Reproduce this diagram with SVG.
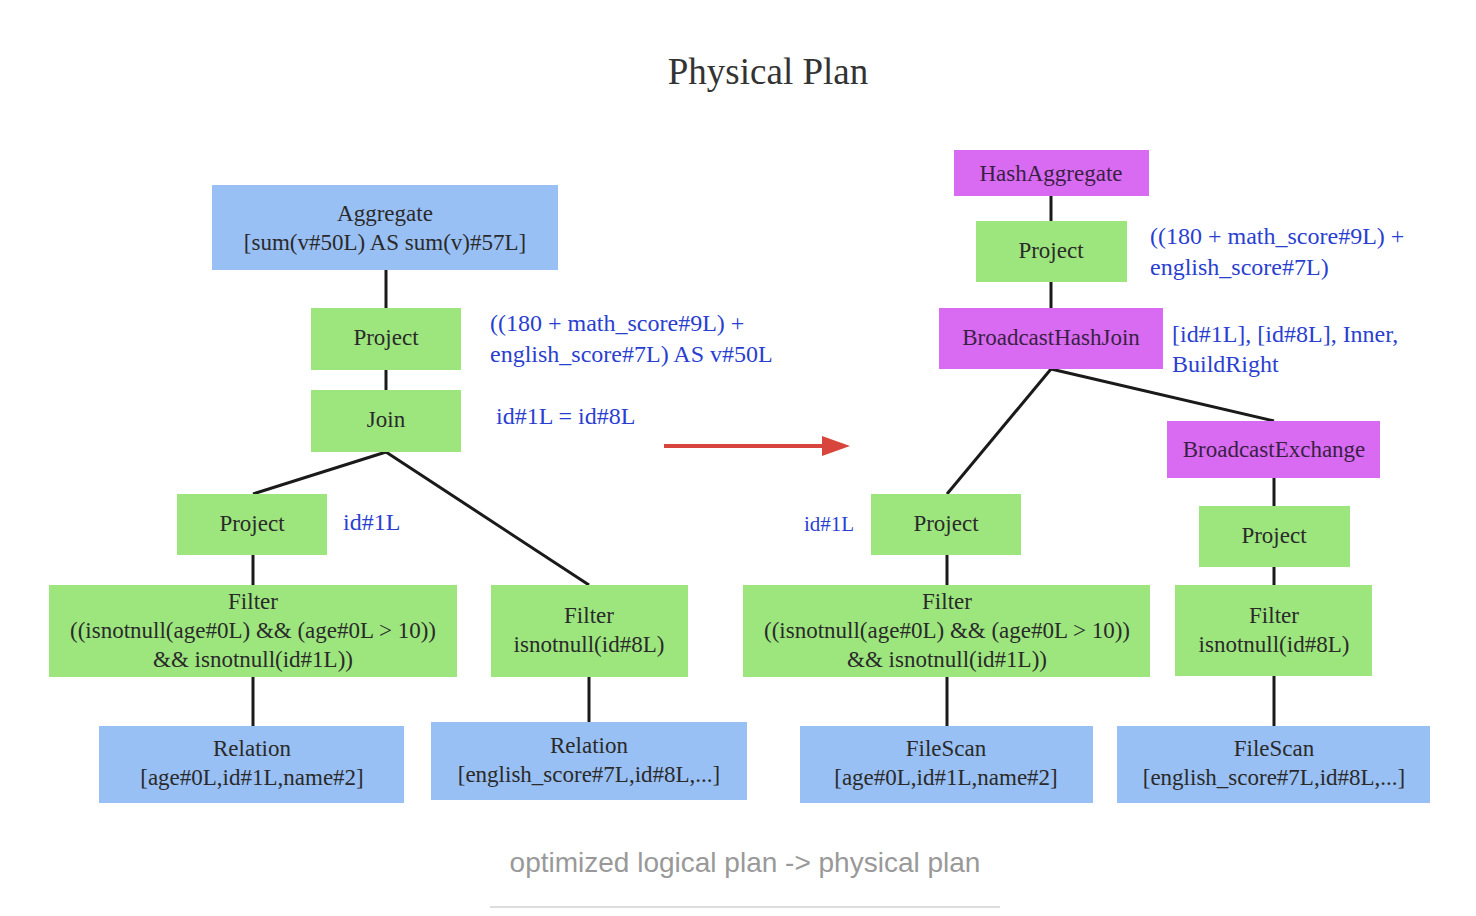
<svg xmlns="http://www.w3.org/2000/svg" width="1476" height="916" viewBox="0 0 1476 916">
<style>
.g{fill:#9de67e}
.b{fill:#99c0f4}
.p{fill:#d96bf2}
text{font-family:"Liberation Serif","Times New Roman",serif;font-size:23px;fill:#2a2a2a;text-anchor:middle}
.pt{fill:#3a1f45}
.a{fill:#2a3fd0;text-anchor:start;font-size:24px}
.c line{stroke:#1a1a1a;stroke-width:3}
</style>
<defs>
<marker id="ah" viewBox="0 0 14 10" refX="0" refY="5" markerWidth="7" markerHeight="5" markerUnits="strokeWidth" orient="auto">
<path d="M0,0L14,5L0,10z" fill="#d8453d"/>
</marker>
</defs>
<rect width="1476" height="916" fill="#fff"/>
<text x="768" y="84" style="font-size:37px;fill:#333">Physical Plan</text>

<g class="c" id="connectors">
<line x1="386" y1="270" x2="386" y2="308"/>
<line x1="386" y1="370" x2="386" y2="390"/>
<line x1="386" y1="452" x2="253" y2="494"/>
<line x1="386" y1="452" x2="589" y2="585"/>
<line x1="253" y1="555" x2="253" y2="585"/>
<line x1="253" y1="677" x2="253" y2="726"/>
<line x1="589" y1="677" x2="589" y2="722"/>
<line x1="1051" y1="196" x2="1051" y2="221"/>
<line x1="1051" y1="282" x2="1051" y2="308"/>
<line x1="1051" y1="369" x2="947" y2="494"/>
<line x1="1051" y1="369" x2="1274" y2="421"/>
<line x1="1274" y1="478" x2="1274" y2="506"/>
<line x1="1274" y1="567" x2="1274" y2="585"/>
<line x1="1274" y1="676" x2="1274" y2="726"/>
<line x1="947" y1="555" x2="947" y2="585"/>
<line x1="947" y1="677" x2="947" y2="726"/>
</g>
<g id="transform-arrow">
<line x1="664" y1="446" x2="822" y2="446" stroke="#d8453d" stroke-width="4" marker-end="url(#ah)"/>
</g>

<g id="l-aggregate"><rect class="b" x="212" y="185" width="346" height="85"/>
<text x="385" y="221">Aggregate</text><text x="385" y="250">[sum(v#50L) AS sum(v)#57L]</text></g>
<g id="l-project1"><rect class="g" x="311" y="308" width="150" height="62"/><text x="386" y="345">Project</text>
<text class="a" x="490" y="331">((180 + math_score#9L) +</text><text class="a" x="490" y="362">english_score#7L) AS v#50L</text></g>
<g id="l-join"><rect class="g" x="311" y="390" width="150" height="62"/><text x="386" y="427">Join</text>
<text class="a" x="496" y="424">id#1L = id#8L</text></g>
<g id="l-project2"><rect class="g" x="177" y="494" width="150" height="61"/><text x="252" y="531">Project</text>
<text class="a" x="343" y="530">id#1L</text></g>
<g id="l-filter1"><rect class="g" x="49" y="585" width="408" height="92"/>
<text x="253" y="609">Filter</text><text x="253" y="638">((isnotnull(age#0L) &amp;&amp; (age#0L &gt; 10))</text><text x="253" y="667">&amp;&amp; isnotnull(id#1L))</text></g>
<g id="l-filter2"><rect class="g" x="491" y="585" width="197" height="92"/>
<text x="589" y="623">Filter</text><text x="589" y="652">isnotnull(id#8L)</text></g>
<g id="l-relation1"><rect class="b" x="99" y="726" width="305" height="77"/>
<text x="252" y="756">Relation</text><text x="252" y="785">[age#0L,id#1L,name#2]</text></g>
<g id="l-relation2"><rect class="b" x="431" y="722" width="316" height="78"/>
<text x="589" y="753">Relation</text><text x="589" y="782">[english_score#7L,id#8L,...]</text></g>

<g id="r-hashaggregate"><rect class="p" x="954" y="150" width="195" height="46"/><text class="pt" x="1051" y="181">HashAggregate</text></g>
<g id="r-project1"><rect class="g" x="976" y="221" width="151" height="61"/><text x="1051" y="258">Project</text>
<text class="a" x="1150" y="244">((180 + math_score#9L) +</text><text class="a" x="1150" y="275">english_score#7L)</text></g>
<g id="r-bhj"><rect class="p" x="939" y="308" width="224" height="61"/><text class="pt" x="1051" y="345">BroadcastHashJoin</text>
<text class="a" x="1172" y="342">[id#1L], [id#8L], Inner,</text><text class="a" x="1172" y="372">BuildRight</text></g>
<g id="r-bex"><rect class="p" x="1167" y="421" width="213" height="57"/><text class="pt" x="1274" y="457">BroadcastExchange</text></g>
<g id="r-project2"><rect class="g" x="871" y="494" width="150" height="61"/><text x="946" y="531">Project</text>
<text class="a" x="804" y="531" style="font-size:21px">id#1L</text></g>
<g id="r-project3"><rect class="g" x="1199" y="506" width="151" height="61"/><text x="1274" y="543">Project</text></g>
<g id="r-filter1"><rect class="g" x="743" y="585" width="407" height="92"/>
<text x="947" y="609">Filter</text><text x="947" y="638">((isnotnull(age#0L) &amp;&amp; (age#0L &gt; 10))</text><text x="947" y="667">&amp;&amp; isnotnull(id#1L))</text></g>
<g id="r-filter2"><rect class="g" x="1175" y="585" width="197" height="91"/>
<text x="1274" y="623">Filter</text><text x="1274" y="652">isnotnull(id#8L)</text></g>
<g id="r-filescan1"><rect class="b" x="800" y="726" width="293" height="77"/>
<text x="946" y="756">FileScan</text><text x="946" y="785">[age#0L,id#1L,name#2]</text></g>
<g id="r-filescan2"><rect class="b" x="1117" y="726" width="313" height="77"/>
<text x="1274" y="756">FileScan</text><text x="1274" y="785">[english_score#7L,id#8L,...]</text></g>

<text x="745" y="872" style="font-family:'Liberation Sans',Arial,sans-serif;font-size:28px;fill:#999">optimized logical plan -&gt; physical plan</text>
<line x1="490" y1="907" x2="1000" y2="907" stroke="#ddd" stroke-width="2"/>
</svg>
